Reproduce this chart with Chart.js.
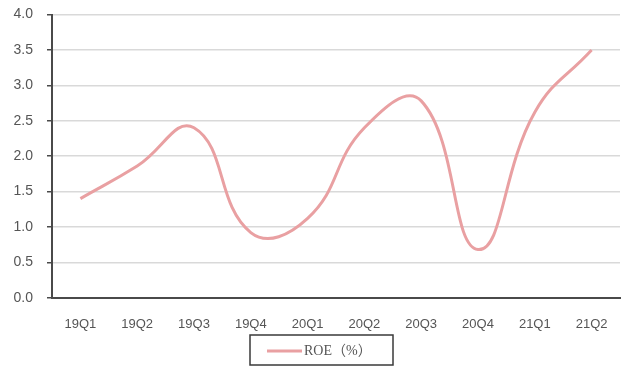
<!DOCTYPE html>
<html>
<head>
<meta charset="utf-8">
<script src="https://cdn.jsdelivr.net/npm/chart.js@4/dist/chart.umd.min.js"></script>
<style>
  html, body { margin: 0; padding: 0; background: #ffffff; }
  #wrap { width: 626px; height: 367px; position: relative; }
</style>
</head>
<body>
<div id="wrap"><canvas id="roe"></canvas></div>
<script>
// Quarterly ROE (%)
const quarters = ['19Q1', '19Q2', '19Q3', '19Q4', '20Q1', '20Q2', '20Q3', '20Q4', '21Q1', '21Q2'];
const roeValues = [1.40, 1.86, 2.40, 0.92, 1.12, 2.40, 2.78, 0.68, 2.62, 3.50];
const yTicks = [0.0, 0.5, 1.0, 1.5, 2.0, 2.5, 3.0, 3.5, 4.0];
const seriesName = 'ROE（%）';

const yFont = { family: '"Liberation Sans", Arial, sans-serif', size: 14 };
const xFont = { family: '"Liberation Sans", Arial, sans-serif', size: 13 };

// Legend drawn as a framed entry centred under the plot
const framedLegend = {
  id: 'framedLegend',
  afterDraw(chart) {
    const ctx = chart.ctx;
    const ds = chart.data.datasets[0];
    const boxL = 250, boxT = 335, boxW = 143, boxH = 30;
    ctx.save();
    ctx.strokeStyle = '#3a3a3a';
    ctx.lineWidth = 1.5;
    ctx.strokeRect(boxL, boxT, boxW, boxH);
    const cy = boxT + boxH / 2 + 1;
    ctx.strokeStyle = ds.borderColor;
    ctx.lineWidth = ds.borderWidth;
    ctx.beginPath();
    ctx.moveTo(267, cy);
    ctx.lineTo(302, cy);
    ctx.stroke();
    ctx.fillStyle = '#555555';
    ctx.font = '14px "Liberation Serif", "Times New Roman", "Noto Sans CJK SC", serif';
    ctx.textBaseline = 'middle';
    ctx.textAlign = 'left';
    ctx.fillText(ds.label, 304, cy);
    ctx.restore();
  }
};

new Chart(document.getElementById('roe'), {
  type: 'line',
  data: {
    labels: quarters,
    datasets: [{
      label: seriesName,
      data: roeValues,
      borderColor: '#e9a0a2',
      borderWidth: 3,
      tension: 0.45,
      pointRadius: 0,
      fill: false
    }]
  },
  options: {
    responsive: true,
    maintainAspectRatio: false,
    animation: false,
    layout: { padding: { top: 14.5, right: 6, bottom: 33.3, left: 0 } },
    plugins: {
      legend: { display: false },
      tooltip: { enabled: false }
    },
    scales: {
      x: {
        offset: true,
        grid: { display: false },
        border: { display: true, color: '#4a4a4a', width: 2 },
        ticks: {
          color: '#555555',
          font: xFont,
          padding: 11,
          maxRotation: 0,
          autoSkip: false
        },
        afterFit(scale) {
          scale.height = 36;
          scale.paddingLeft = 0;
          scale.paddingRight = 0;
        }
      },
      y: {
        min: 0,
        max: 4,
        afterBuildTicks(scale) { scale.ticks = yTicks.map(v => ({ value: v })); },
        grid: {
          color: '#d9d9d9',
          lineWidth: 1.5,
          drawTicks: true,
          tickLength: 5,
          tickColor: '#4a4a4a'
        },
        border: { display: true, color: '#4a4a4a', width: 2 },
        ticks: {
          color: '#555555',
          font: yFont,
          padding: 14,
          callback: v => Number(v).toFixed(1)
        },
        afterFit(scale) {
          scale.width = 52;
          scale.paddingTop = 0;
          scale.paddingBottom = 0;
        }
      }
    }
  },
  plugins: [framedLegend]
});
</script>
</body>
</html>
